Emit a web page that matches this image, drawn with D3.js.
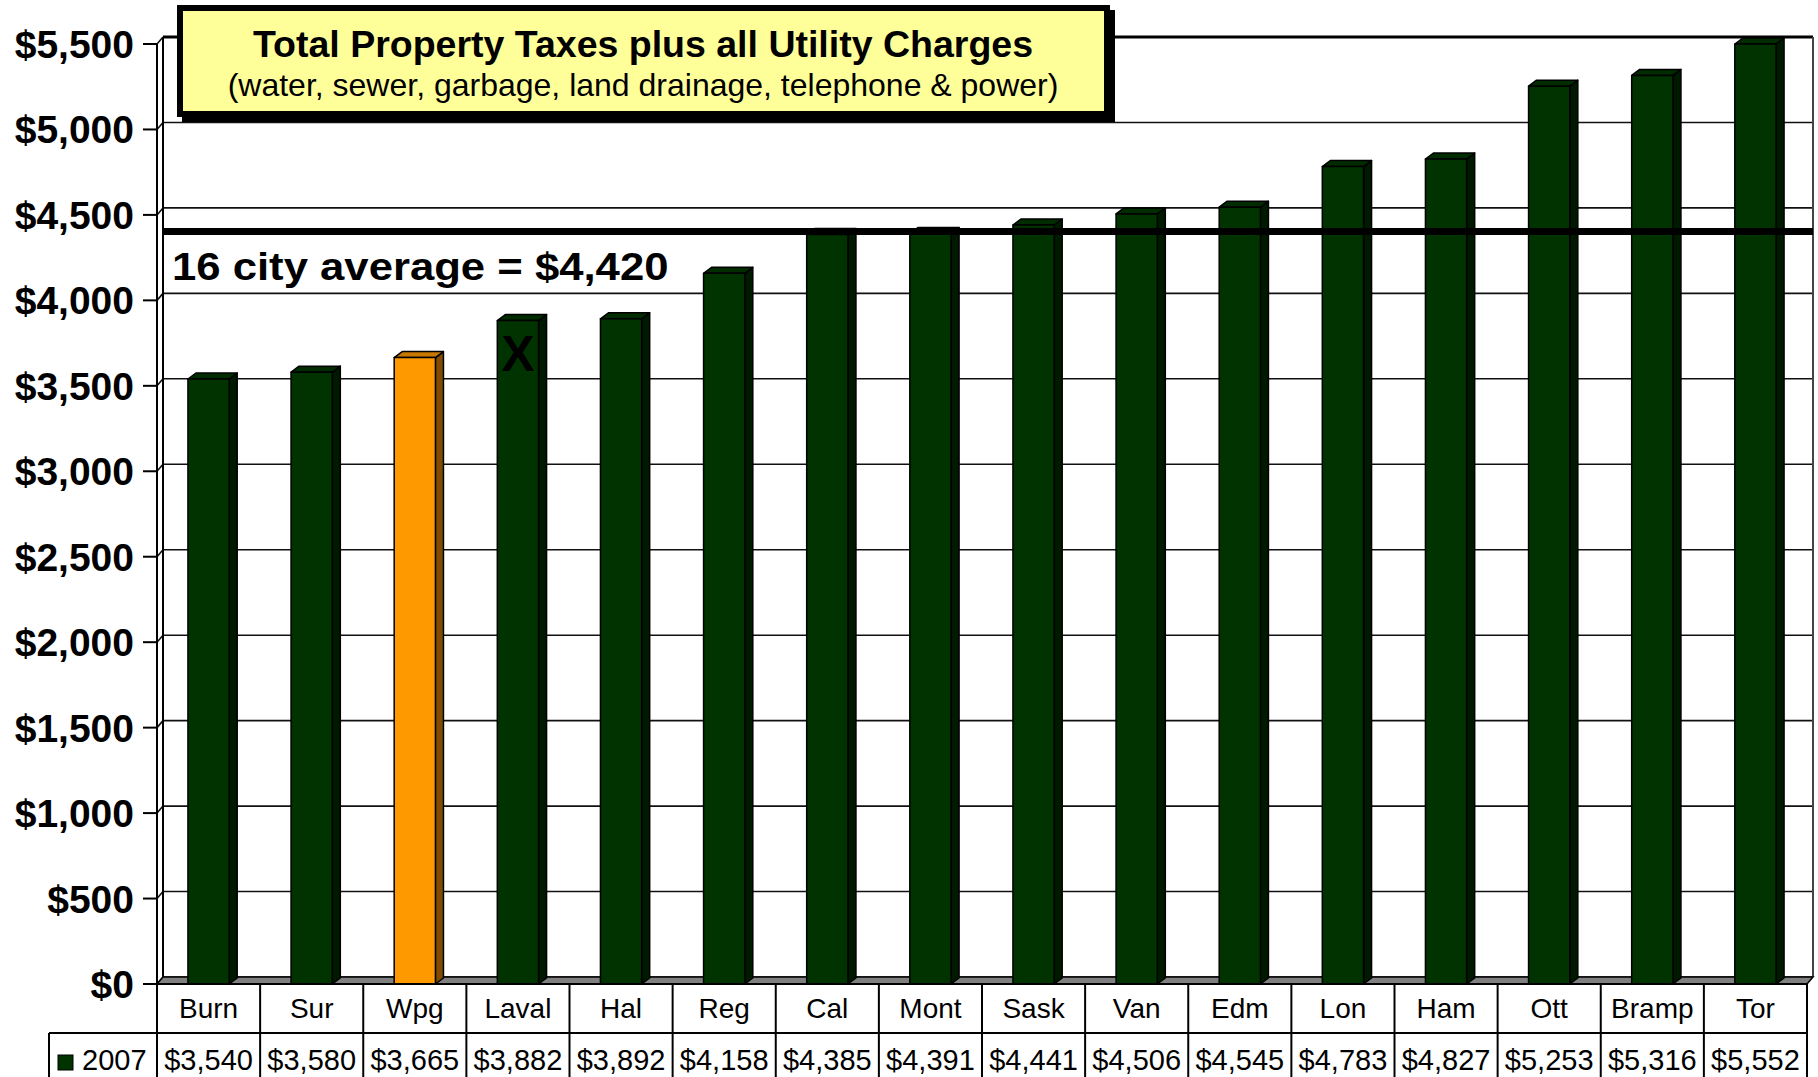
<!DOCTYPE html>
<html>
<head>
<meta charset="utf-8">
<script src="https://cdn.jsdelivr.net/npm/d3@7"></script>
<style>
  body { margin: 0; background: #fff; }
  text { font-family: "Liberation Sans", Arial, sans-serif; }
</style>
</head>
<body>
<div id="chart"></div>
<script>
// data
var cities = ["Burn", "Sur", "Wpg", "Laval", "Hal", "Reg", "Cal", "Mont",
              "Sask", "Van", "Edm", "Lon", "Ham", "Ott", "Bramp", "Tor"];
var values2007 = [3540, 3580, 3665, 3882, 3892, 4158, 4385, 4391,
                  4441, 4506, 4545, 4783, 4827, 5253, 5316, 5552];
var seriesName = "2007";
var highlightCity = "Wpg";
var markedCity = "Laval";
var yTicks = [0, 500, 1000, 1500, 2000, 2500, 3000, 3500, 4000, 4500, 5000, 5500];

var width = 1818, height = 1077;
var wall = {dx: 6, dy: 7};     // depth of the back wall
var box = {dx: 8, dy: 6};      // depth of each bar

var svg = d3.select("#chart").append("svg")
            .attr("width", width)
            .attr("height", height);

var x = d3.scaleBand().domain(cities).range([157, 1807])
          .paddingInner(0.6).paddingOuter(0.3);
var y = d3.scaleLinear().domain([0, 5500]).range([984, 44]);
var fmt = function(v) { return "$" + d3.format(",")(v); };

var left = x.range()[0], right = x.range()[1];
var yMax = y.domain()[1];

// back wall
svg.append("rect")
   .attr("x", left + wall.dx).attr("y", y(yMax) - wall.dy)
   .attr("width", right - left).attr("height", y(0) - y(yMax))
   .attr("fill", "#fff");

// gridlines on back wall + left wall
var grid = svg.append("g").attr("stroke", "#111").attr("stroke-width", 1.6);
grid.selectAll("line.h").data(yTicks).enter().append("line")
    .attr("x1", left + wall.dx).attr("x2", right + wall.dx)
    .attr("y1", function(d) { return y(d) - wall.dy; })
    .attr("y2", function(d) { return y(d) - wall.dy; });
grid.selectAll("line.d").data(yTicks).enter().append("line")
    .attr("x1", left).attr("x2", left + wall.dx)
    .attr("y1", function(d) { return y(d); })
    .attr("y2", function(d) { return y(d) - wall.dy; });

// wall edges
var edges = svg.append("g").attr("stroke", "#000").attr("stroke-width", 2);
edges.append("line").attr("x1", left).attr("x2", left).attr("y1", y(yMax)).attr("y2", y(0));
edges.append("line").attr("x1", left + wall.dx).attr("x2", left + wall.dx)
     .attr("y1", y(yMax) - wall.dy).attr("y2", y(0) - wall.dy);
edges.append("line").attr("x1", left + wall.dx).attr("x2", right + wall.dx)
     .attr("y1", y(yMax) - wall.dy).attr("y2", y(yMax) - wall.dy).attr("stroke-width", 3);
edges.append("line").attr("x1", right + wall.dx).attr("x2", right + wall.dx)
     .attr("y1", y(yMax) - wall.dy).attr("y2", y(0) - wall.dy).attr("stroke", "#444");

// floor
svg.append("polygon")
   .attr("points", [[left, y(0)], [right, y(0)], [right + wall.dx, y(0) - wall.dy],
                    [left + wall.dx, y(0) - wall.dy]].join(" "))
   .attr("fill", "#808080").attr("stroke", "#000").attr("stroke-width", 1.5);

// bars
var bw = x.bandwidth();
var bars = svg.selectAll("g.bar")
              .data(cities.map(function(c, i) { return {city: c, value: values2007[i]}; }))
              .enter().append("g").classed("bar", 1)
              .attr("stroke", "#000").attr("stroke-width", 1.5)
              .attr("stroke-linejoin", "round");

function colors(d) {
  if (d.city === highlightCity) return {front: "#FF9900", top: "#C87800", side: "#7F4C00"};
  return {front: "#003300", top: "#002C00", side: "#001A00"};
}

bars.append("polygon")
    .attr("points", function(d) {
      var x0 = x(d.city), yv = y(Math.min(d.value, yMax));
      return [[x0 + bw, yv], [x0 + bw + box.dx, yv - box.dy],
              [x0 + bw + box.dx, y(0) - box.dy], [x0 + bw, y(0)]].join(" ");
    })
    .attr("fill", function(d) { return colors(d).side; });
bars.append("polygon")
    .attr("points", function(d) {
      var x0 = x(d.city), yv = y(Math.min(d.value, yMax));
      return [[x0, yv], [x0 + box.dx, yv - box.dy],
              [x0 + bw + box.dx, yv - box.dy], [x0 + bw, yv]].join(" ");
    })
    .attr("fill", function(d) { return colors(d).top; });
bars.append("rect")
    .attr("x", function(d) { return x(d.city); })
    .attr("y", function(d) { return y(Math.min(d.value, yMax)); })
    .attr("width", bw)
    .attr("height", function(d) { return y(0) - y(Math.min(d.value, yMax)); })
    .attr("fill", function(d) { return colors(d).front; });

// average line
var avg = Math.round(d3.mean(values2007));
svg.append("line")
   .attr("x1", left + wall.dx).attr("x2", right + wall.dx)
   .attr("y1", y(avg) + 3).attr("y2", y(avg) + 3)
   .attr("stroke", "#000").attr("stroke-width", 7);
svg.append("text")
   .attr("transform", "translate(172,280) scale(1.12,1)")
   .attr("font-size", 39).attr("font-weight", "bold")
   .text("16 city average = " + fmt(avg));

// the X mark
svg.append("text")
   .attr("x", x(markedCity) + bw / 2).attr("y", 371)
   .attr("text-anchor", "middle")
   .attr("font-size", 50).attr("font-weight", "bold")
   .text("X");

// y axis ticks + labels
var axis = svg.append("g");
axis.selectAll("line").data(yTicks).enter().append("line")
    .attr("x1", left - 14).attr("x2", left)
    .attr("y1", function(d) { return y(d); })
    .attr("y2", function(d) { return y(d); })
    .attr("stroke", "#000").attr("stroke-width", 2);
axis.selectAll("text").data(yTicks).enter().append("text")
    .attr("x", 134).attr("y", function(d) { return y(d); })
    .attr("dy", "0.36em")
    .attr("text-anchor", "end")
    .attr("font-size", 39).attr("font-weight", "bold")
    .text(fmt);

// title box
svg.append("rect").attr("x", 182).attr("y", 10).attr("width", 933).attr("height", 112)
   .attr("fill", "#000");
svg.append("rect").attr("x", 180).attr("y", 8).attr("width", 927).attr("height", 106)
   .attr("fill", "#FFFF99").attr("stroke", "#000").attr("stroke-width", 6);
svg.append("text").attr("x", 643).attr("y", 57).attr("text-anchor", "middle")
   .attr("font-size", 37.5).attr("font-weight", "bold")
   .text("Total Property Taxes plus all Utility Charges");
svg.append("text").attr("x", 643).attr("y", 96).attr("text-anchor", "middle")
   .attr("font-size", 32)
   .text("(water, sewer, garbage, land drainage, telephone & power)");

// data table
var rowTop = y(0), rowMid = 1033, rowBot = 1080;
var table = svg.append("g").attr("stroke", "#000").attr("stroke-width", 2);
var cols = cities.map(function(c) { return x(c) - x.step() * x.paddingOuter(); });
cols.push(right);
table.selectAll("line.v").data(cols).enter().append("line")
     .attr("x1", function(d) { return d; }).attr("x2", function(d) { return d; })
     .attr("y1", rowTop).attr("y2", rowBot);
table.append("line").attr("x1", left).attr("x2", right).attr("y1", rowTop).attr("y2", rowTop);
table.append("line").attr("x1", 49).attr("x2", right).attr("y1", rowMid).attr("y2", rowMid);
table.append("line").attr("x1", 49).attr("x2", 49).attr("y1", rowMid).attr("y2", rowBot);

svg.selectAll("text.cat").data(cities).enter().append("text")
   .attr("x", function(d) { return x(d) + bw / 2; }).attr("y", 1018)
   .attr("text-anchor", "middle").attr("font-size", 28)
   .text(function(d) { return d; });
svg.selectAll("text.val").data(values2007).enter().append("text")
   .attr("x", function(d, i) { return x(cities[i]) + bw / 2; }).attr("y", 1070)
   .attr("text-anchor", "middle").attr("font-size", 29)
   .text(fmt);

// legend key
svg.append("rect").attr("x", 58).attr("y", 1055).attr("width", 15).attr("height", 15)
   .attr("fill", "#003300").attr("stroke", "#000").attr("stroke-width", 1);
svg.append("text").attr("x", 82).attr("y", 1070).attr("font-size", 29).text(seriesName);
</script>
</body>
</html>
